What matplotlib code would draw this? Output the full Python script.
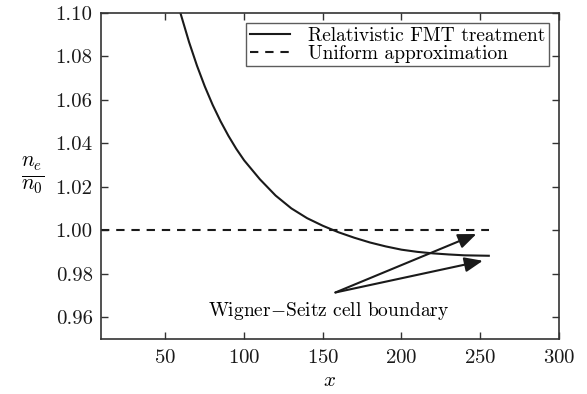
import matplotlib
matplotlib.use("Agg")
import matplotlib.pyplot as plt
import matplotlib.ticker as mticker

plt.rcParams['font.family'] = 'serif'
plt.rcParams['font.serif'] = ['cmr10']
plt.rcParams['mathtext.fontset'] = 'cm'
plt.rcParams['axes.formatter.use_mathtext'] = True

# density ratio
x_fmt = [59.5, 65, 70, 75, 80, 85, 90, 95, 100, 110, 120, 130, 140, 150,
         160, 170, 180, 190, 200, 210, 220, 230, 240, 255.5]
ne_fmt = [1.1000, 1.0866, 1.0758, 1.0662, 1.0577, 1.0502, 1.0435, 1.0375, 1.0322,
          1.0235, 1.0160, 1.0101, 1.0056, 1.0021,
          0.9991, 0.9966, 0.9944, 0.9926, 0.9911, 0.9901, 0.9894, 0.9889, 0.9885, 0.9883]
x_uniform = [9, 255.5]
ne_uniform = [1.0, 1.0]

label_fmt = 'Relativistic FMT treatment'
label_uniform = 'Uniform approximation'
note = r'Wigner$-$Seitz cell boundary'
note_pos = (154, 0.9627)
arrow_tail = (158, 0.9714)
arrow_tips = [(247.6, 0.9983), (251.7, 0.9860)]

fig = plt.figure(figsize=(5.87, 3.94), dpi=100)
ax = fig.add_axes([0.172, 0.1396, 0.780, 0.8274])

ax.plot(x_fmt, ne_fmt, color='#1a1a1a', lw=1.5, label=label_fmt)
ax.plot(x_uniform, ne_uniform, color='#1a1a1a', lw=1.5, ls=(0, (4, 3.3)), label=label_uniform)

ax.text(note_pos[0], note_pos[1], note, ha='center', va='center', fontsize=14)
for tip in arrow_tips:
    ax.annotate('', xy=tip, xytext=arrow_tail,
                arrowprops=dict(arrowstyle='-|>,head_length=1.1,head_width=0.45',
                                color='#1a1a1a', lw=1.5, shrinkA=0, shrinkB=0))

ax.set_xlim(9, 300)
ax.set_ylim(0.95, 1.10)
ax.set_xticks([50, 100, 150, 200, 250, 300])
ax.set_yticks([0.96, 0.98, 1.00, 1.02, 1.04, 1.06, 1.08, 1.10])
ax.yaxis.set_major_formatter(mticker.FormatStrFormatter('%.2f'))
ax.tick_params(direction='in', top=True, right=True, length=5, width=1,
               colors='#333333', labelcolor='#1a1a1a', labelsize=15)
ax.tick_params(axis='x', pad=7)
ax.tick_params(axis='y', pad=6)
for s in ax.spines.values():
    s.set_color('#333333')
    s.set_linewidth(1.2)

ax.set_xlabel(r'$x$', fontsize=15, labelpad=4)
ax.set_ylabel(r'$\frac{n_e}{n_0}$', fontsize=22, rotation=0, labelpad=16, va='center')

leg = ax.legend(loc='upper right', fontsize=14, frameon=True, fancybox=False,
                borderpad=0.2, labelspacing=0.0, handlelength=2.1, handletextpad=0.9,
                borderaxespad=0.5)
leg.get_frame().set_edgecolor('#333333')
leg.get_frame().set_linewidth(1.0)

fig.savefig('out.png', dpi=100)
